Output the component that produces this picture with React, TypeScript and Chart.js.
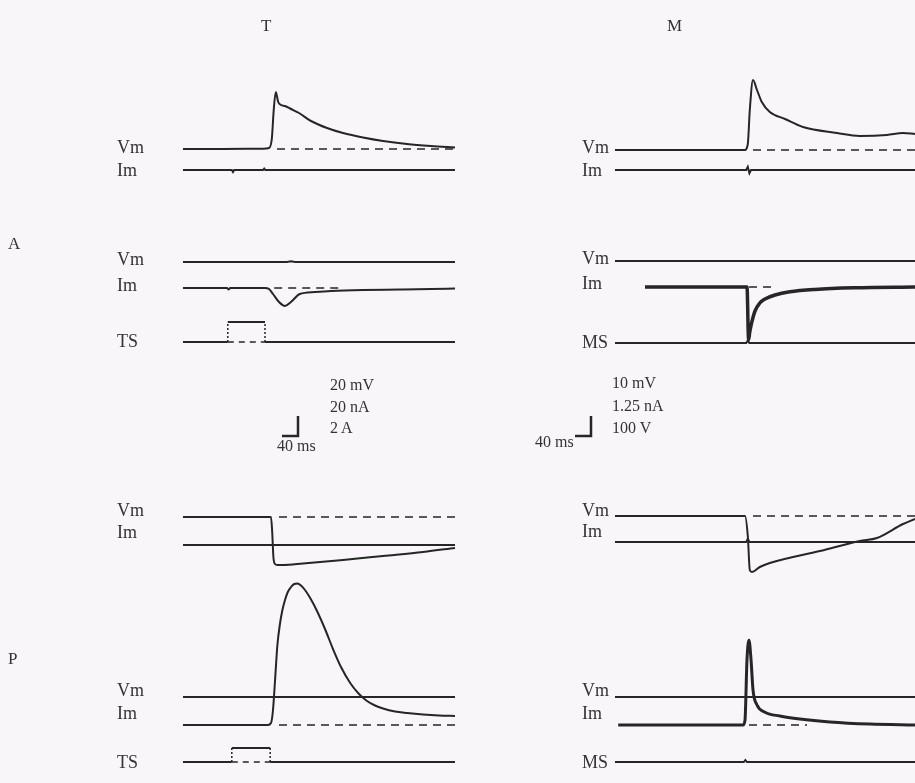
import React, { useEffect, useRef } from "react";
import { Chart, registerables } from "chart.js";

Chart.register(...registerables);

const W = 915;
const H = 783;

// ---------- recorded sweeps (time in ms from sweep start) ----------
// Column T
const tA1VmTime = [0, 100, 200, 215, 222, 227, 232, 238, 245, 255, 270, 290, 320, 360, 400, 450, 500, 560, 620, 680];
const tA1Vm = [0, 0, 0.3, 1, 10, 40, 57, 47, 44, 43, 40, 36, 28, 21, 16, 11.5, 8, 5, 3, 1.5];
const tA1ImTime = [0, 122, 125, 128, 200, 203, 206, 680];
const tA1Im = [0, 0, -2, 0, 0, 1.5, 0, 0];
const tA2VmTime = [0, 260, 270, 280, 680];
const tA2Vm = [0, 0, 0.8, 0, 0];
const tA2ImTime = [0, 110, 114, 118, 205, 215, 225, 240, 255, 270, 292, 330, 370, 450, 540, 620, 680];
const tA2Im = [0, 0, -1.5, 0, 0, -1, -6, -14, -18, -14, -6, -4, -3, -2, -1.5, -1, -0.5];
const tP1VmTime = [0, 150, 220, 223, 226, 230, 236, 250, 300, 400, 500, 600, 680];
const tP1Vm = [0, 0, 0, -15, -40, -47, -48, -48, -46.5, -43, -39, -35, -31];
const tP1ImTime = [0, 680];
const tP1Im = [0, 0];
const tP2VmTime = [0, 680];
const tP2Vm = [0, 0];
const tP2ImTime = [0, 150, 212, 220, 225, 230, 236, 242, 248, 255, 262, 270, 278, 286, 295, 305, 318, 335, 355, 375, 395, 418, 440, 460, 480, 500, 530, 560, 600, 640, 680];
const tP2Im = [0, 0, 0, 2, 15, 44, 80, 100, 114, 125, 133, 138, 141, 141.5, 139.5, 135, 127, 114, 96, 76, 58, 42, 31, 24, 19.5, 16.5, 13.5, 12, 10.5, 9.5, 9];

// stimulus pulses of the TS channel (A row, P row)
const tsPulseOn = [112, 122];
const tsPulseOff = [205, 218];
const tsPulseAmp = [2, 1.4];

// Column M
const mA1VmTime = [0, 200, 325, 332, 337, 345, 355, 367, 387, 425, 470, 555, 612, 680, 720, 750];
const mA1Vm = [0, 0, 0, 3, 20, 35, 30, 24, 19, 15.5, 11.5, 8.5, 7, 7.5, 8.5, 8];
const mA1ImTime = [0, 328, 332, 336, 340, 750];
const mA1Im = [0, 0, 0.2, -0.2, 0, 0];
const mA2VmTime = [0, 750];
const mA2Vm = [0, 0];
const mA2ImTime = [75, 200, 330, 334, 337, 342, 350, 362, 375, 400, 437, 500, 600, 750];
const mA2Im = [0, 0, 0, -3.3, -2.8, -2.2, -1.5, -1.0, -0.75, -0.5, -0.3, -0.15, -0.05, 0];
const mA2MsTime = [0, 328, 332, 336, 750];
const mA2Ms = [0, 0, 12, 0, 0];
const mP1VmTime = [0, 200, 325, 332, 337, 342, 362, 387, 512, 612, 655, 720, 750];
const mP1Vm = [0, 0, 0, -10, -27, -28, -25.5, -23.5, -17.5, -12.5, -11, -4, -1.5];
const mP1ImTime = [0, 328, 332, 336, 750];
const mP1Im = [0, 0, 0.2, 0, 0];
const mP2VmTime = [0, 750];
const mP2Vm = [0, 0];
const mP2ImTime = [8, 200, 320, 325, 330, 335, 340, 345, 355, 375, 412, 462, 537, 637, 750];
const mP2Im = [0, 0, 0, 0.3, 4.1, 5.3, 4.1, 2.2, 1.25, 0.8, 0.56, 0.37, 0.19, 0.06, 0];
const mP2MsTime = [0, 322, 326, 330, 750];
const mP2Ms = [0, 0, 10, 0, 0];

// ---------- calibration bars ----------
const barTimeMs = 40;
const barTimeLabel = "40 ms";
const tBarValues = [20, 20, 2]; // mV, nA, A
const tBarLabels = ["20 mV", "20 nA", "2 A"];
const mBarValues = [10, 1.25, 100]; // mV, nA, V
const mBarLabels = ["10 mV", "1.25 nA", "100 V"];

const columnTitles = ["T", "M"];
const rowTitles = ["A", "P"];

// ---------- display layout ----------
const BAR_V_PX = 20;
const BAR_H_PX = 16;
const MS_PER_PX = barTimeMs / BAR_H_PX;
const COL = {
  T: { x0: 183, end: 680 },
  M: { x0: 615, end: 750 },
};
const GAIN: Record<string, Record<string, number>> = {
  T: { mV: tBarValues[0] / BAR_V_PX, nA: tBarValues[1] / BAR_V_PX, A: tBarValues[2] / BAR_V_PX },
  M: { mV: mBarValues[0] / BAR_V_PX, nA: mBarValues[1] / BAR_V_PX, V: mBarValues[2] / BAR_V_PX },
};
const BAR_CORNER = { T: { x: 298, y: 436 }, M: { x: 591, y: 436 } };

const INK = "#262626";
const TEXT = "#333";
const BG = "#f9f6f9";

type Col = "T" | "M";
type Trace = {
  id: string;
  col: Col;
  unit: string;
  base: number;
  time: number[];
  values: number[];
  width?: number;
  ref?: [number, number];
  smooth?: boolean;
};

const traces: Trace[] = [
  { id: "tA1Vm", col: "T", unit: "mV", base: 149, time: tA1VmTime, values: tA1Vm, ref: [235, 680], smooth: true },
  { id: "tA1Im", col: "T", unit: "nA", base: 170, time: tA1ImTime, values: tA1Im },
  { id: "tA2Vm", col: "T", unit: "mV", base: 262, time: tA2VmTime, values: tA2Vm },
  { id: "tA2Im", col: "T", unit: "nA", base: 288, time: tA2ImTime, values: tA2Im, ref: [228, 400], smooth: true },
  { id: "tP1Vm", col: "T", unit: "mV", base: 517, time: tP1VmTime, values: tP1Vm, ref: [240, 680], smooth: true },
  { id: "tP1Im", col: "T", unit: "nA", base: 545, time: tP1ImTime, values: tP1Im },
  { id: "tP2Vm", col: "T", unit: "mV", base: 697, time: tP2VmTime, values: tP2Vm },
  { id: "tP2Im", col: "T", unit: "nA", base: 725, time: tP2ImTime, values: tP2Im, ref: [240, 680], smooth: true },
  { id: "mA1Vm", col: "M", unit: "mV", base: 150, time: mA1VmTime, values: mA1Vm, ref: [345, 750], smooth: true },
  { id: "mA1Im", col: "M", unit: "nA", base: 170, time: mA1ImTime, values: mA1Im },
  { id: "mA2Vm", col: "M", unit: "mV", base: 261, time: mA2VmTime, values: mA2Vm },
  { id: "mA2Im", col: "M", unit: "nA", base: 287, time: mA2ImTime, values: mA2Im, ref: [335, 395], width: 3.5, smooth: true },
  { id: "mA2Ms", col: "M", unit: "V", base: 343, time: mA2MsTime, values: mA2Ms },
  { id: "mP1Vm", col: "M", unit: "mV", base: 516, time: mP1VmTime, values: mP1Vm, ref: [345, 750], smooth: true },
  { id: "mP1Im", col: "M", unit: "nA", base: 542, time: mP1ImTime, values: mP1Im },
  { id: "mP2Vm", col: "M", unit: "mV", base: 697, time: mP2VmTime, values: mP2Vm },
  { id: "mP2Im", col: "M", unit: "nA", base: 725, time: mP2ImTime, values: mP2Im, ref: [335, 480], width: 3, smooth: true },
  { id: "mP2Ms", col: "M", unit: "V", base: 762, time: mP2MsTime, values: mP2Ms },
];

// TS channel baselines (A row, P row)
const tsBases = [342, 762];

// channel labels: [text, column, centre y]
const channelLabels: [string, Col, number][] = [
  ["Vm", "T", 147], ["Im", "T", 170], ["Vm", "T", 259], ["Im", "T", 285], ["TS", "T", 341],
  ["Vm", "T", 510], ["Im", "T", 532], ["Vm", "T", 690], ["Im", "T", 713], ["TS", "T", 762],
  ["Vm", "M", 147], ["Im", "M", 170], ["Vm", "M", 258], ["Im", "M", 283], ["MS", "M", 342],
  ["Vm", "M", 510], ["Im", "M", 531], ["Vm", "M", 690], ["Im", "M", 713], ["MS", "M", 762],
];
const LABEL_X = { T: 117, M: 582 };

function yAxis(base: number, gain: number) {
  return { type: "linear", display: false, min: (base - H) * gain, max: base * gain };
}
function xAxis(x0: number) {
  return { type: "linear", display: false, min: -x0 * MS_PER_PX, max: (W - x0) * MS_PER_PX };
}

function pts(time: number[], values: number[]) {
  return time.map((t, i) => ({ x: t, y: values[i] }));
}

function buildChart(canvas: HTMLCanvasElement) {
  const scales: Record<string, any> = {
    xT: xAxis(COL.T.x0),
    xM: xAxis(COL.M.x0),
    xBarT: xAxis(BAR_CORNER.T.x),
    xBarM: xAxis(BAR_CORNER.M.x),
    yBarT: yAxis(BAR_CORNER.T.y, GAIN.T.mV),
    yBarM: yAxis(BAR_CORNER.M.y, GAIN.M.mV),
  };
  const datasets: any[] = [];
  const line = (data: any[], xID: string, yID: string, extra: any = {}) =>
    datasets.push({
      data,
      xAxisID: xID,
      yAxisID: yID,
      borderColor: INK,
      borderWidth: 2,
      pointRadius: 0,
      fill: false,
      tension: 0,
      ...extra,
    });

  for (const tr of traces) {
    const yID = "y_" + tr.id;
    scales[yID] = yAxis(tr.base, GAIN[tr.col][tr.unit]);
    const xID = "x" + tr.col;
    if (tr.ref) {
      line(pts(tr.ref, [0, 0]), xID, yID, { borderWidth: 1.6, borderDash: [8, 6] });
    }
    line(pts(tr.time, tr.values), xID, yID, {
      borderWidth: tr.width ?? 2,
      cubicInterpolationMode: tr.smooth ? "monotone" : "default",
    });
  }

  // TS stimulus channel: solid baseline, dotted pulse edges, dashed baseline under the pulse
  tsBases.forEach((base, i) => {
    const yID = "y_ts" + i;
    scales[yID] = yAxis(base, GAIN.T.A);
    const on = tsPulseOn[i];
    const off = tsPulseOff[i];
    const amp = tsPulseAmp[i];
    line(pts([0, on], [0, 0]), "xT", yID);
    line(pts([off, COL.T.end], [0, 0]), "xT", yID);
    line(pts([on, off], [0, 0]), "xT", yID, { borderWidth: 1.5, borderDash: [6, 5] });
    line(pts([on, on], [0, amp]), "xT", yID, { borderWidth: 1.5, borderDash: [2, 2] });
    line(pts([off, off], [0, amp]), "xT", yID, { borderWidth: 1.5, borderDash: [2, 2] });
    line(pts([on, off], [amp, amp]), "xT", yID, { borderWidth: 2 });
  });

  // calibration bars
  line(pts([-barTimeMs, 0, 0], [0, 0, tBarValues[0]]), "xBarT", "yBarT", { borderWidth: 2.5 });
  line(pts([-barTimeMs, 0, 0], [0, 0, mBarValues[0]]), "xBarM", "yBarM", { borderWidth: 2.5 });

  return new Chart(canvas, {
    type: "line",
    data: { datasets },
    options: {
      animation: false,
      responsive: false,
      devicePixelRatio: 1,
      layout: { padding: 0 },
      plugins: { legend: { display: false }, tooltip: { enabled: false } },
      scales,
    } as any,
  });
}

const serif = "'Liberation Serif', 'DejaVu Serif', 'Times New Roman', serif";

function Label({ text, x, y, size = 18 }: { text: string; x: number; y: number; size?: number }) {
  return (
    <div
      style={{
        position: "absolute",
        left: x,
        top: y,
        transform: "translateY(-50%)",
        fontFamily: serif,
        fontSize: size,
        lineHeight: 1,
        color: TEXT,
        whiteSpace: "nowrap",
      }}
    >
      {text}
    </div>
  );
}

export default function App() {
  const ref = useRef<HTMLCanvasElement>(null);
  useEffect(() => {
    if (!ref.current) return;
    const chart = buildChart(ref.current);
    return () => chart.destroy();
  }, []);

  return (
    <div style={{ position: "absolute", left: 0, top: 0, width: W, height: H, background: BG, overflow: "hidden" }}>
      <canvas ref={ref} width={W} height={H} style={{ position: "absolute", left: 0, top: 0, width: W, height: H }} />
      <Label text={columnTitles[0]} x={261} y={25} size={17} />
      <Label text={columnTitles[1]} x={667} y={25} size={17} />
      <Label text={rowTitles[0]} x={8} y={243} size={17} />
      <Label text={rowTitles[1]} x={8} y={658} size={17} />
      {channelLabels.map(([t, c, y], i) => (
        <Label key={i} text={t} x={LABEL_X[c]} y={y} />
      ))}
      {tBarLabels.map((t, i) => (
        <Label key={"tb" + i} text={t} x={330} y={385 + i * 21.5} size={16} />
      ))}
      <Label text={barTimeLabel} x={277} y={446} size={16} />
      {mBarLabels.map((t, i) => (
        <Label key={"mb" + i} text={t} x={612} y={383 + i * 22.5} size={16} />
      ))}
      <Label text={barTimeLabel} x={535} y={442} size={16} />
    </div>
  );
}
